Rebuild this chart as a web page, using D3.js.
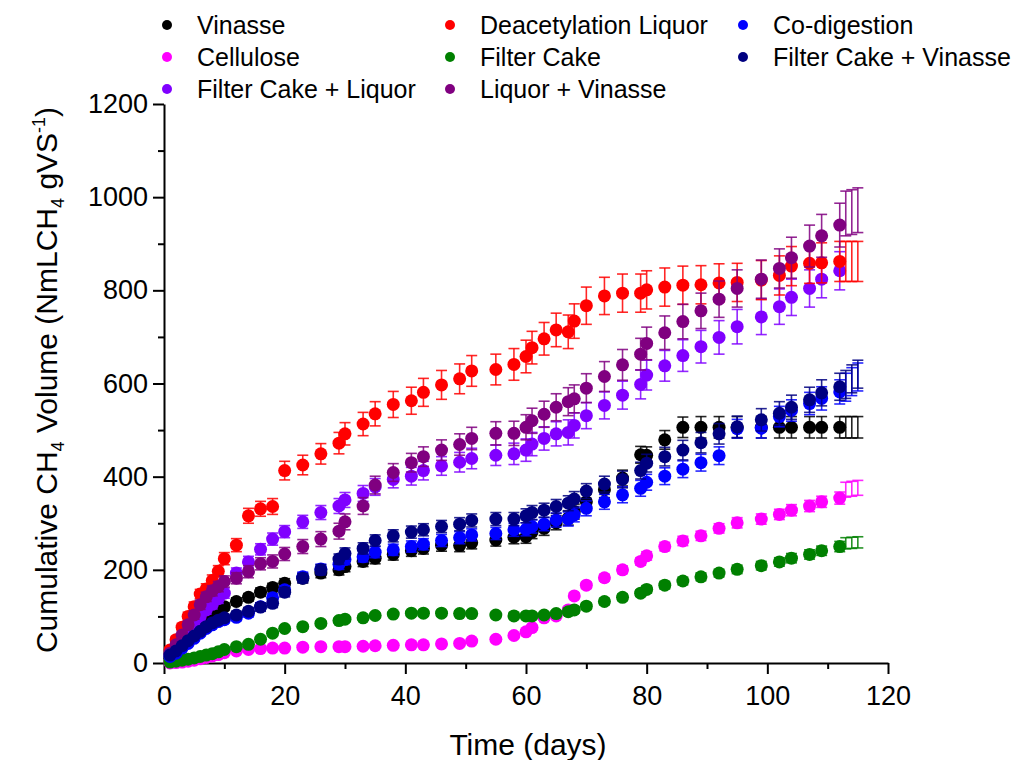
<!DOCTYPE html>
<html>
<head>
<meta charset="utf-8">
<script src="https://cdn.jsdelivr.net/npm/d3@7"></script>
<style>
  body { margin: 0; background: #fff; }
</style>
</head>
<body>
<svg id="chart"></svg>
<script>
// sampling days shared by all the series
const days = [1, 2, 3, 4, 5, 6, 7, 8, 9, 10, 12, 14, 16, 18, 20, 23, 26, 29, 30, 33,
  35, 38, 41, 43, 46, 49, 51, 55, 58, 60, 61, 63, 65, 67, 68, 70, 73, 76, 79, 80,
  83, 86, 89, 92, 95, 99, 102, 104, 107, 109, 112];

const vinasse = [10, 22, 36, 50, 63, 76, 88, 100, 110, 121, 132, 141, 152, 162, 171, 182, 193, 200, 207, 218,
  225, 233, 241, 246, 253, 252, 258, 264, 270, 271, 281, 289, 301, 311, 325, 346, 372, 397, 447, 446,
  479, 506, 506, 506, 506, 506, 506, 506, 506, 506, 506];
const vinasseErr = [3, 4, 4, 5, 5, 6, 6, 7, 7, 8, 8, 8, 9, 9, 10, 10, 10, 11, 11, 11,
  12, 12, 12, 12, 13, 13, 13, 13, 14, 14, 14, 15, 15, 15, 16, 16, 17, 17, 18, 18,
  20, 22, 23, 23, 23, 23, 23, 23, 23, 23, 23];

const cellulose = [0, 1, 2, 4, 6, 9, 12, 15, 18, 22, 26, 29, 31, 32, 32, 34, 35, 35, 35, 36,
  37, 38, 39, 39, 41, 42, 47, 51, 59, 67, 76, 97, 101, 114, 144, 167, 183, 200, 218, 230,
  250, 262, 273, 289, 301, 309, 319, 328, 337, 346, 354];
const celluloseErr = [1, 1, 1, 1, 1, 2, 2, 2, 2, 2, 2, 2, 2, 2, 3, 3, 3, 3, 3, 3,
  3, 3, 3, 3, 3, 4, 4, 4, 4, 4, 5, 5, 5, 6, 6, 7, 7, 8, 8, 9,
  9, 10, 10, 10, 11, 11, 11, 12, 12, 12, 13];

const fcLiquor = [17, 32, 49, 67, 85, 100, 114, 126, 138, 150, 193, 217, 244, 266, 282, 303, 323, 337, 350, 364,
  378, 394, 401, 413, 423, 431, 439, 446, 449, 457, 470, 482, 492, 495, 510, 531, 553, 575, 598, 618,
  638, 660, 679, 699, 722, 743, 765, 785, 804, 824, 842];
const fcLiquorErr = [5, 5, 6, 7, 8, 8, 9, 10, 10, 11, 11, 12, 12, 13, 13, 14, 15, 16, 16, 17,
  18, 18, 19, 20, 20, 21, 22, 22, 23, 24, 25, 25, 26, 27, 27, 28, 29, 30, 31, 32,
  33, 34, 35, 36, 37, 38, 38, 39, 40, 40, 41];

const deacetyl = [28, 50, 77, 100, 121, 148, 159, 177, 197, 224, 253, 316, 331, 336, 413, 425, 449, 472, 492, 513,
  535, 555, 563, 581, 597, 610, 627, 630, 641, 658, 677, 696, 715, 711, 734, 767, 788, 794, 794, 801,
  807, 811, 812, 816, 817, 822, 832, 852, 858, 859, 862];
const deacetylErr = [6, 7, 8, 9, 10, 10, 11, 12, 12, 13, 14, 16, 16, 17, 20, 21, 22, 23, 24, 25,
  26, 28, 29, 30, 31, 32, 33, 33, 34, 35, 35, 35, 36, 36, 37, 40, 40, 41, 41, 41,
  41, 41, 41, 41, 41, 42, 42, 42, 43, 43, 43];

const filterCake = [2, 4, 6, 8, 11, 14, 17, 20, 24, 29, 35, 40, 51, 64, 74, 78, 85, 91, 94, 97,
  102, 105, 107, 107, 107, 106, 106, 103, 101, 101, 101, 103, 106, 110, 114, 122, 132, 141, 150, 158,
  167, 176, 185, 193, 201, 209, 217, 225, 233, 241, 250];
const filterCakeErr = [1, 1, 1, 2, 2, 2, 2, 3, 3, 3, 3, 3, 4, 4, 4, 4, 5, 5, 5, 5,
  5, 5, 5, 6, 6, 6, 6, 6, 6, 6, 6, 6, 6, 7, 7, 7, 7, 7, 7, 8,
  8, 8, 8, 8, 9, 9, 9, 10, 10, 10, 11];

const liquorVinasse = [21, 39, 60, 82, 103, 125, 142, 155, 164, 175, 182, 196, 213, 218, 234, 250, 266, 283, 303, 337,
  382, 409, 430, 443, 457, 469, 482, 493, 493, 506, 520, 534, 549, 561, 567, 590, 615, 640, 663, 686,
  709, 733, 756, 781, 804, 824, 847, 870, 895, 917, 940];
const liquorVinasseErr = [5, 6, 7, 8, 9, 10, 10, 11, 11, 12, 12, 13, 13, 14, 14, 15, 16, 17, 17, 18,
  19, 19, 20, 21, 22, 23, 24, 25, 26, 27, 27, 28, 29, 30, 30, 31, 32, 33, 34, 35,
  36, 37, 38, 39, 40, 41, 42, 44, 45, 46, 47];

const coDigestion = [14, 21, 32, 42, 53, 64, 74, 82, 89, 93, 98, 107, 121, 140, 157, 185, 202, 212, 222, 228,
  238, 243, 250, 255, 263, 269, 275, 278, 286, 287, 293, 298, 307, 309, 318, 332, 346, 361, 375, 388,
  401, 416, 430, 445, 503, 504, 529, 542, 557, 568, 582];
const coDigestionErr = [3, 3, 4, 4, 5, 5, 6, 6, 7, 7, 7, 8, 8, 9, 9, 10, 10, 11, 11, 11,
  12, 12, 12, 12, 13, 13, 13, 13, 14, 14, 14, 14, 15, 15, 15, 16, 16, 17, 17, 17,
  18, 18, 18, 19, 20, 21, 22, 23, 24, 25, 26];

const fcVinasse = [17, 26, 37, 48, 58, 68, 78, 86, 92, 97, 103, 111, 120, 128, 152, 182, 200, 223, 235, 246,
  263, 273, 281, 286, 293, 298, 306, 309, 309, 316, 323, 328, 336, 343, 352, 369, 384, 394, 413, 429,
  443, 457, 473, 492, 507, 522, 536, 549, 565, 580, 593];
const fcVinasseErr = [3, 3, 4, 4, 5, 5, 6, 6, 7, 7, 8, 8, 9, 9, 10, 10, 11, 11, 12, 12,
  12, 13, 13, 13, 13, 14, 14, 14, 14, 15, 15, 15, 15, 16, 16, 16, 17, 18, 18, 19,
  20, 21, 22, 22, 23, 24, 25, 26, 27, 28, 29];

// error bars past the last marker (no symbol drawn)
const tailDays = [113, 114, 115];
const vinasseTail = [506, 506, 506], vinasseTailErr = [23, 23, 23];
const celluloseTail = [372, 374, 376], celluloseTailErr = [16, 16, 16];
const deacetylTail = [862, 862, 862], deacetylTailErr = [43, 43, 43];
const filterCakeTail = [257, 258, 259], filterCakeTailErr = [12, 12, 12];
const liquorVinasseTail = [965, 968, 972], liquorVinasseTailErr = [48, 48, 48];
const coDigestionTail = [592, 604, 614], coDigestionTailErr = [30, 30, 30];
const fcVinasseTail = [598, 610, 620], fcVinasseTailErr = [30, 30, 30];

const xTicks = [0, 20, 40, 60, 80, 100, 120];
const xMinor = [10, 30, 50, 70, 90, 110];
const yTicks = [0, 200, 400, 600, 800, 1000, 1200];
const yMinor = [100, 300, 500, 700, 900, 1100];

// legend order (column by column), also the drawing order
const series = [
  { name: "Vinasse", color: "#000000", values: vinasse, err: vinasseErr, tail: vinasseTail, tailErr: vinasseTailErr },
  { name: "Cellulose", color: "#ff00ff", values: cellulose, err: celluloseErr, tail: celluloseTail, tailErr: celluloseTailErr },
  { name: "Filter Cake + Liquor", color: "#8000ff", values: fcLiquor, err: fcLiquorErr, tail: [], tailErr: [] },
  { name: "Deacetylation Liquor", color: "#ff0000", values: deacetyl, err: deacetylErr, tail: deacetylTail, tailErr: deacetylTailErr },
  { name: "Filter Cake", color: "#008000", values: filterCake, err: filterCakeErr, tail: filterCakeTail, tailErr: filterCakeTailErr },
  { name: "Liquor + Vinasse", color: "#800080", values: liquorVinasse, err: liquorVinasseErr, tail: liquorVinasseTail, tailErr: liquorVinasseTailErr },
  { name: "Co-digestion", color: "#0000ff", values: coDigestion, err: coDigestionErr, tail: coDigestionTail, tailErr: coDigestionTailErr },
  { name: "Filter Cake + Vinasse", color: "#000080", values: fcVinasse, err: fcVinasseErr, tail: fcVinasseTail, tailErr: fcVinasseTailErr }
];

const width = 1013;
const height = 760;
const margin = { top: 104, right: 125, bottom: 97, left: 164 };
const chartWidth = width - margin.left - margin.right;
const chartHeight = height - margin.top - margin.bottom;
const fontFamily = "Arial, 'Liberation Sans', Helvetica, sans-serif";

const svg = d3.select("#chart")
  .attr("width", width)
  .attr("height", height)
  .style("background-color", "#fff");

const x = d3.scaleLinear().domain([0, 120]).range([0, chartWidth]);
const y = d3.scaleLinear().domain([0, 1200]).range([chartHeight, 0]);

const chart = svg.append("g")
  .attr("transform", "translate(" + margin.left + "," + margin.top + ")");

// axes: minor ticks first, then major ticks with labels
chart.append("g")
  .attr("transform", "translate(0," + chartHeight + ")")
  .call(d3.axisBottom(x).tickValues(xMinor).tickSize(6).tickFormat(""))
  .call(g => g.select(".domain").remove())
  .selectAll("line").attr("stroke-width", 2);

chart.append("g")
  .call(d3.axisLeft(y).tickValues(yMinor).tickSize(6).tickFormat(""))
  .call(g => g.select(".domain").remove())
  .selectAll("line").attr("stroke-width", 2);

const xAxis = chart.append("g")
  .attr("transform", "translate(0," + chartHeight + ")")
  .call(d3.axisBottom(x).tickValues(xTicks).tickSize(11).tickSizeOuter(0).tickPadding(12)
    .tickFormat(d3.format("d")));

const yAxis = chart.append("g")
  .call(d3.axisLeft(y).tickValues(yTicks).tickSize(11).tickSizeOuter(0).tickPadding(5)
    .tickFormat(d3.format("d")));

[xAxis, yAxis].forEach(g => {
  g.select(".domain").attr("stroke-width", 2);
  g.selectAll("line").attr("stroke-width", 2);
  g.selectAll("text")
    .style("font-family", fontFamily)
    .style("font-size", "27px")
    .attr("fill", "#000");
});

// data
series.forEach(s => {
  const pts = s.values.map((v, i) => ({ d: days[i], v: v, e: s.err[i] }));
  const tail = s.tail.map((v, i) => ({ d: tailDays[i], v: v, e: s.tailErr[i] }));
  const g = chart.append("g").attr("class", "series");

  const bars = g.selectAll("g.err")
    .data(pts.concat(tail))
    .join("g")
    .attr("class", "err")
    .attr("stroke", s.color)
    .attr("stroke-width", 1.6)
    .attr("stroke-opacity", 0.85);

  bars.append("line")
    .attr("x1", d => x(d.d)).attr("x2", d => x(d.d))
    .attr("y1", d => y(d.v - d.e)).attr("y2", d => y(d.v + d.e));
  bars.append("line")
    .attr("x1", d => x(d.d) - 5.5).attr("x2", d => x(d.d) + 5.5)
    .attr("y1", d => y(d.v + d.e)).attr("y2", d => y(d.v + d.e));
  bars.append("line")
    .attr("x1", d => x(d.d) - 5.5).attr("x2", d => x(d.d) + 5.5)
    .attr("y1", d => y(d.v - d.e)).attr("y2", d => y(d.v - d.e));

  g.selectAll("circle")
    .data(pts)
    .join("circle")
    .attr("cx", d => x(d.d))
    .attr("cy", d => y(d.v))
    .attr("r", 6.5)
    .attr("fill", s.color);
});

// legend, three columns
const legendX = [167, 450, 743];
const legendY = [25, 57, 89];
const legend = svg.append("g");
series.forEach((s, i) => {
  const col = Math.floor(i / 3);
  const row = i % 3;
  legend.append("circle")
    .attr("cx", legendX[col])
    .attr("cy", legendY[row])
    .attr("r", 5)
    .attr("fill", s.color);
  legend.append("text")
    .attr("x", legendX[col] + 30)
    .attr("y", legendY[row] + 9)
    .style("font-family", fontFamily)
    .style("font-size", "25px")
    .text(s.name);
});

// axis titles
svg.append("text")
  .attr("x", margin.left + chartWidth / 2 + 2)
  .attr("y", 755)
  .attr("text-anchor", "middle")
  .style("font-family", fontFamily)
  .style("font-size", "30px")
  .text("Time (days)");

const yTitle = svg.append("text")
  .attr("transform", "translate(57," + 380 + ") rotate(-90)")
  .attr("text-anchor", "middle")
  .style("font-family", fontFamily)
  .style("font-size", "30px");
yTitle.append("tspan").text("Cumulative CH");
yTitle.append("tspan").attr("dy", 7).style("font-size", "18px").text("4");
yTitle.append("tspan").attr("dy", -7).text(" Volume (NmLCH");
yTitle.append("tspan").attr("dy", 7).style("font-size", "18px").text("4");
yTitle.append("tspan").attr("dy", -7).text(" gVS");
yTitle.append("tspan").attr("dy", -12).style("font-size", "18px").text("-1");
yTitle.append("tspan").attr("dy", 12).text(")");
</script>
</body>
</html>
